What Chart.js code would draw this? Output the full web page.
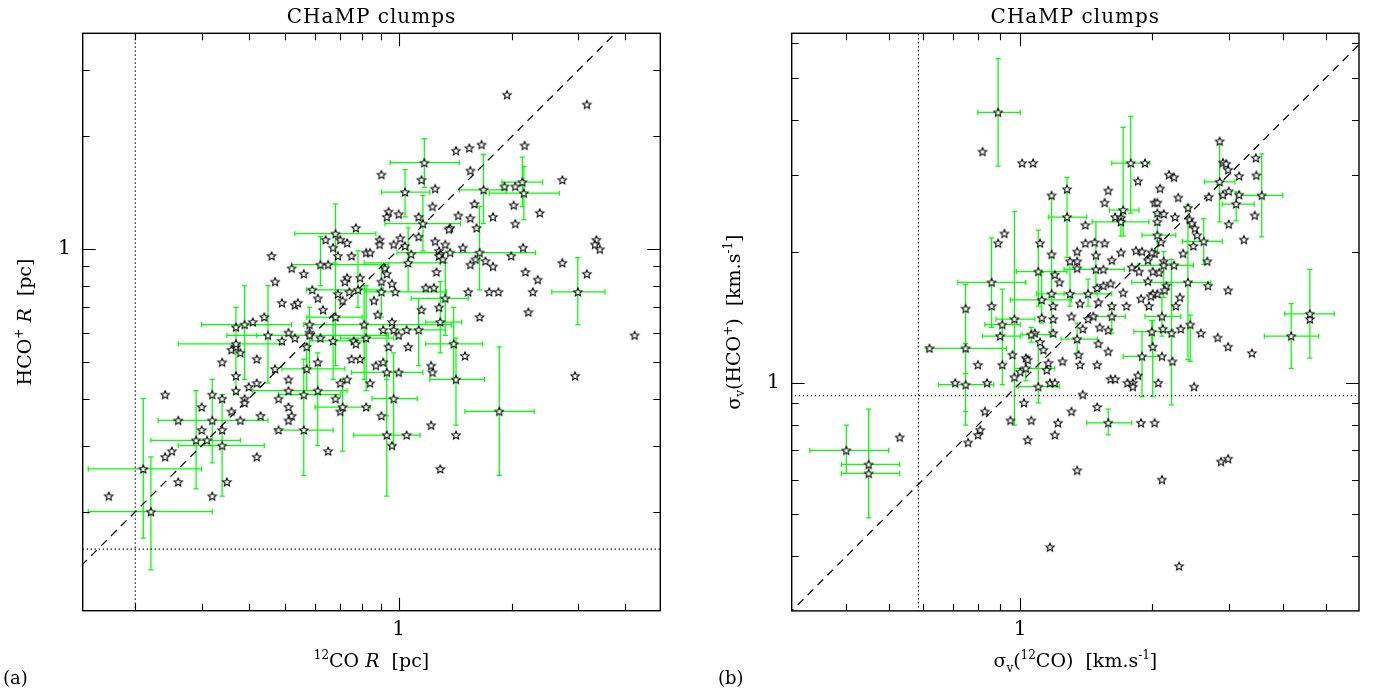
<!DOCTYPE html>
<html>
<head>
<meta charset="utf-8">
<title>CHaMP clumps</title>
<script src="https://cdn.jsdelivr.net/npm/chart.js"></script>
<style>
  html, body { margin: 0; padding: 0; background: #fff; }
  #wrap { position: relative; width: 1379px; height: 689px; overflow: hidden; }
  canvas { position: absolute; top: 0; }
</style>
</head>
<body>
<div id="wrap">
  <canvas id="panelA" width="690" height="689" style="left:0"></canvas>
  <canvas id="panelB" width="689" height="689" style="left:690px"></canvas>
</div>
<script>
// ---------------- panel (a): clump radii [pc] ----------------
const radiusRangeCO  = [0.145, 4.95];
const radiusRangeHCO = [0.109, 3.76];
const radiusTicksCO  = [0.2, 0.3, 0.4, 0.5, 0.6, 0.7, 0.8, 0.9, 1, 2, 3, 4];
const radiusTicksHCO = [0.2, 0.3, 0.4, 0.5, 0.6, 0.7, 0.8, 0.9, 1, 2, 3];
const radiusLimitCO  = 0.2;
const radiusLimitHCO = 0.159;

const coRadius = [
  1.94,3.16,2.16,1.66,1.54,1.42,1.55,0.90,2.72,1.15,
  1.91,2.04,1.25,1.59,2.02,1.23,2.37,0.94,1.00,1.44,
  1.55,1.13,0.93,1.78,2.04,1.61,1.37,1.36,0.77,1.13,
  1.01,0.64,0.70,0.89,1.25,1.33,0.67,0.73,0.97,1.04,
  1.48,2.14,3.35,3.32,3.42,0.89,1.28,1.37,0.82,0.84,
  0.69,0.75,1.08,1.29,1.99,1.28,1.31,0.46,1.60,1.70,
  1.55,0.65,0.52,1.78,0.92,2.17,0.56,1.26,0.93,3.16,
  0.47,2.34,0.73,0.79,0.72,0.90,2.72,0.96,0.59,1.24,
  1.18,0.98,0.69,0.74,1.53,1.74,1.84,2.27,0.49,0.53,
  0.54,0.61,0.71,0.86,1.15,1.28,1.64,2.21,0.44,0.63,
  0.88,0.58,0.41,0.37,0.51,0.58,0.91,0.96,1.00,0.97,
  1.05,0.49,0.53,0.62,0.76,0.77,0.57,0.94,1.06,4.23,
  0.36,0.37,0.38,0.42,0.34,0.47,0.61,0.75,0.79,0.87,
  0.91,1.22,1.23,1.00,1.50,2.94,0.37,0.51,0.73,0.84,
  0.70,0.37,0.40,0.42,0.51,0.24,0.32,0.34,0.39,0.39,
  0.48,0.68,0.30,0.51,0.70,0.82,0.36,0.43,0.52,0.90,
  0.26,0.38,0.51,1.22,0.30,0.34,0.48,1.05,1.42,0.31,
  0.96,0.65,0.25,0.24,0.42,1.29,0.26,0.35,0.17,0.32
];
const hcoRadius = [
  2.58,2.43,1.89,1.90,1.86,1.83,1.62,1.58,1.53,1.53,
  1.47,1.47,1.45,1.32,1.31,1.30,1.25,1.26,1.24,1.23,
  1.21,1.22,1.22,1.22,1.17,1.14,1.14,1.13,1.14,1.08,
  1.07,1.06,1.06,1.06,1.05,1.03,1.01,1.04,1.03,1.02,
  1.01,1.01,1.06,1.03,1.00,1.03,0.99,0.98,0.98,0.98,
  0.96,0.96,0.97,0.97,0.96,0.96,0.94,0.96,0.94,0.93,
  0.91,0.91,0.89,0.90,0.89,0.87,0.86,0.87,0.86,0.86,
  0.82,0.83,0.84,0.84,0.82,0.82,0.92,0.81,0.78,0.79,
  0.79,0.77,0.76,0.77,0.77,0.77,0.77,0.77,0.72,0.71,
  0.72,0.74,0.73,0.73,0.69,0.70,0.66,0.68,0.66,0.69,
  0.67,0.63,0.64,0.62,0.60,0.60,0.61,0.64,0.59,0.61,
  0.61,0.57,0.58,0.58,0.57,0.56,0.55,0.55,0.55,0.59,
  0.54,0.55,0.53,0.51,0.50,0.48,0.50,0.51,0.51,0.49,
  0.50,0.49,0.47,0.47,0.52,0.46,0.46,0.45,0.45,0.44,
  0.44,0.42,0.43,0.44,0.42,0.41,0.41,0.40,0.40,0.39,
  0.40,0.40,0.38,0.38,0.37,0.38,0.37,0.36,0.36,0.36,
  0.35,0.35,0.35,0.34,0.33,0.33,0.33,0.32,0.32,0.31,
  0.30,0.29,0.29,0.28,0.28,0.26,0.24,0.24,0.22,0.22
];

// clumps with measured uncertainties (value, lower and upper bound)
const barCoRadius = [1.17,1.04,2.13,2.15,1.68,1.16,0.68,1.64,1.06,0.62, 0.78,1.33,0.90,2.99,0.68,0.39,0.45,0.81,0.58,0.67, 0.82,0.37,1.29,1.13,1.40,0.57,0.93,1.42,0.97,0.61, 0.56,0.71,1.85,0.32,0.56,0.93,0.29,0.34,0.21,0.22];
const barHcoRadius = [1.70,1.42,1.51,1.41,1.44,1.17,1.10,0.98,0.92,0.91, 0.78,0.74,0.77,0.77,0.66,0.63,0.59,0.63,0.59,0.57, 0.58,0.56,0.64,0.61,0.56,0.48,0.47,0.45,0.40,0.42, 0.41,0.38,0.37,0.35,0.33,0.32,0.31,0.30,0.26,0.20];
const barCoRadiusLo = [0.95,0.90,1.88,1.74,1.45,0.92,0.53,0.99,0.81,0.52, 0.57,1.08,0.81,2.55,0.57,0.30,0.35,0.56,0.42,0.58, 0.70,0.26,1.18,0.96,1.18,0.49,0.75,1.21,0.85,0.41, 0.48,0.60,1.50,0.23,0.47,0.76,0.22,0.26,0.15,0.15];
const barCoRadiusHi = [1.45,1.21,2.41,2.67,1.93,1.46,0.87,2.31,1.29,0.94, 0.91,1.53,1.34,3.53,0.80,0.52,0.62,1.38,0.94,0.82, 0.97,0.49,1.47,1.33,1.67,0.72,1.16,1.69,1.12,0.73, 0.70,0.84,2.29,0.45,0.67,1.14,0.38,0.44,0.30,0.32];
const barHcoRadiusLo = [1.46,1.22,1.30,1.20,1.17,0.99,0.92,0.78,0.77,0.80, 0.70,0.59,0.66,0.63,0.49,0.45,0.44,0.45,0.48,0.45, 0.42,0.41,0.53,0.49,0.45,0.42,0.36,0.34,0.30,0.30, 0.25,0.29,0.25,0.27,0.25,0.22,0.23,0.22,0.17,0.14];
const barHcoRadiusHi = [1.97,1.63,1.76,1.66,1.79,1.39,1.32,1.30,1.14,1.08, 0.99,0.92,0.92,0.95,0.92,0.80,0.80,0.80,0.70,0.66, 0.80,0.70,0.82,0.74,0.70,0.56,0.60,0.58,0.53,0.53, 0.51,0.45,0.55,0.45,0.41,0.45,0.42,0.41,0.40,0.28];

// ---------------- panel (b): velocity dispersions [km/s] ----------------
const sigmaRangeCO  = [0.331, 5.96];
const sigmaRangeHCO = [0.337, 6.33];
const sigmaTicksCO  = [0.4, 0.5, 0.6, 0.7, 0.8, 0.9, 1, 2, 3, 4, 5];
const sigmaTicksHCO = [0.4, 0.5, 0.6, 0.7, 0.8, 0.9, 1, 2, 3, 4, 5, 6];
const sigmaLimitCO  = 0.585;
const sigmaLimitHCO = 0.935;

const coSigma = [
  0.82,1.01,1.07,1.93,2.86,2.91,2.96,2.99,3.46,3.47,
  3.17,2.19,2.25,1.86,2.09,1.59,1.28,1.18,2.30,2.70,
  2.91,3.00,3.17,1.56,2.03,2.06,3.44,3.00,3.25,1.65,
  1.70,2.06,2.13,2.42,2.44,2.47,2.51,2.54,2.49,2.36,
  2.68,2.69,2.26,2.06,2.10,2.03,2.00,1.84,1.90,1.96,
  2.13,2.25,2.01,1.87,1.96,2.08,2.16,2.14,2.06,2.01,
  1.89,2.32,2.27,1.97,1.70,1.80,1.72,1.75,1.62,1.59,
  1.52,1.47,1.51,1.55,1.61,1.50,1.49,1.55,1.62,1.56,
  1.48,1.41,1.41,1.35,1.35,1.30,1.35,1.37,1.31,1.39,
  1.36,1.37,1.50,1.59,1.51,1.43,1.23,1.20,1.11,1.18,
  1.19,1.19,1.19,1.12,1.08,1.11,1.13,1.16,1.15,1.25,
  1.03,1.04,1.00,0.96,0.97,1.17,1.20,0.91,0.86,0.89,
  0.92,0.80,0.71,0.84,0.62,0.83,0.76,0.80,0.81,0.95,
  1.02,1.06,1.04,1.20,1.22,1.31,1.39,1.50,1.35,1.17,
  1.61,1.65,1.76,1.81,1.81,1.86,1.89,2.03,2.07,2.11,
  2.31,2.50,2.88,2.99,3.39,2.99,2.83,2.99,2.59,2.33,
  2.23,2.11,2.12,1.99,4.60,0.53
];
const hcoSigma = [
  3.39,3.19,3.19,3.19,3.58,3.20,3.18,3.08,3.28,2.99,
  2.98,3.00,2.96,2.90,2.79,2.76,2.78,2.69,2.66,2.67,
  2.70,2.75,2.70,2.59,2.59,2.59,2.42,2.31,2.13,2.40,
  2.39,2.45,2.44,2.52,2.37,2.32,2.26,2.18,2.06,1.98,
  1.90,1.67,2.40,2.34,2.10,1.98,1.99,2.01,2.00,1.91,
  1.90,1.86,1.80,1.80,1.71,1.79,1.67,1.63,1.60,1.60,
  1.56,1.57,1.50,1.50,1.99,1.84,1.61,1.50,1.50,1.32,
  1.34,1.42,1.53,1.67,1.69,1.65,1.96,1.82,1.91,2.09,
  2.10,2.09,2.30,2.00,1.90,1.90,1.83,1.52,1.42,1.33,
  1.16,1.10,1.10,1.18,1.23,1.40,1.70,1.77,2.09,1.60,
  1.50,1.40,1.30,1.41,1.30,1.24,1.19,1.11,1.07,1.12,
  1.14,1.13,1.06,1.16,1.03,1.00,1.00,1.10,1.50,2.09,
  2.20,1.10,1.00,1.00,1.20,0.86,0.73,0.76,0.78,0.82,
  0.90,0.82,0.74,0.76,0.81,0.86,0.94,0.88,0.63,0.42,
  1.02,1.02,1.00,1.00,0.98,1.04,0.81,0.81,1.00,0.60,
  0.38,0.98,0.66,0.67,1.17,1.21,1.27,1.63,1.30,1.33,
  1.12,1.15,1.33,1.58,1.40,0.75
];

const barCoSigma = [0.89,1.79,1.72,2.86,3.57,3.12,1.28,1.18,1.70,2.06, 2.63,2.13,2.42,2.22,2.11,2.00,2.01,1.90,2.45,1.62, 1.59,1.49,1.30,1.43,1.35,1.10,1.12,1.06,1.10,1.03, 0.97,0.91,0.90,0.86,0.75,0.75,0.75,0.40,0.45,0.45, 4.17,4.60];
const barHcoSigma = [4.17,3.19,2.49,2.89,2.69,2.57,2.40,1.97,2.34,2.18, 2.11,1.86,1.70,1.30,1.42,1.31,1.21,1.15,1.36,1.42, 0.81,1.82,1.60,1.60,1.26,1.80,1.55,1.29,0.98,1.08, 1.40,1.36,1.28,1.70,1.48,1.20,0.99,0.70,0.65,0.62, 1.28,1.44];
const barCoSigmaLo = [0.80,1.62,1.60,2.64,3.18,2.90,1.16,1.18,1.46,1.90, 2.35,1.86,1.80,2.22,1.93,1.82,2.01,1.72,2.45,1.49, 1.42,1.26,1.09,1.26,1.24,0.98,0.95,1.01,0.99,0.97, 0.88,0.83,0.82,0.72,0.75,0.61,0.65,0.33,0.39,0.39, 3.62,4.03];
const barCoSigmaHi = [1.00,1.98,1.87,3.10,3.99,3.43,1.42,1.18,1.97,2.27, 2.90,2.49,2.73,2.22,2.33,2.24,2.01,2.11,2.45,1.74, 1.80,1.73,1.50,1.62,1.50,1.28,1.31,1.19,1.23,1.20, 1.08,1.00,1.00,1.03,0.75,0.93,0.87,0.50,0.53,0.53, 4.82,5.23];
const barHcoSigmaLo = [3.14,2.45,2.17,2.34,2.16,2.35,1.94,1.28,2.17,1.98, 1.87,1.57,1.13,0.89,1.28,1.21,0.93,0.93,1.12,1.30, 0.76,1.60,1.50,1.50,1.17,1.50,1.37,1.24,0.90,1.01, 0.80,0.99,1.28,1.34,0.80,0.86,0.80,0.62,0.49,0.49, 1.08,1.14];
const barHcoSigmaHi = [5.54,4.08,3.85,3.54,3.35,2.74,2.96,2.65,2.50,2.47, 2.38,2.00,2.56,1.92,1.57,1.39,1.39,1.31,1.43,1.50, 0.87,2.34,1.90,1.73,1.37,2.24,1.79,1.34,1.25,1.13, 2.47,1.64,1.28,2.15,1.68,1.23,1.05,0.80,0.87,0.70, 1.52,1.82];

// ---------------- drawing helpers ----------------
const SERIF = '"DejaVu Serif", "Liberation Serif", serif';
const BAR_GREEN = '#00ff00';
const CAP = 2.6;

// open five-pointed star used as the clump marker
function makeStar() {
  const c = document.createElement('canvas');
  c.width = 12; c.height = 12;
  const g = c.getContext('2d');
  g.beginPath();
  for (let i = 0; i < 10; i++) {
    const r = i % 2 === 0 ? 4.4 : 2.0;
    const ang = -Math.PI / 2 + i * Math.PI / 5;
    const px = 6 + r * Math.cos(ang), py = 6.4 + r * Math.sin(ang);
    if (i === 0) g.moveTo(px, py); else g.lineTo(px, py);
  }
  g.closePath();
  g.fillStyle = '#fff';
  g.fill();
  g.strokeStyle = '#000';
  g.lineWidth = 1.05;
  g.lineJoin = 'miter';
  g.stroke();
  return c;
}
const STAR = makeStar();

// text made of runs: [text, kind] with kind '' | 'i' (italic) | 'sup' | 'sub'
function runFont(kind, size) {
  const small = kind === 'sup' || kind === 'sub';
  return (kind === 'i' ? 'italic ' : '') + (small ? Math.round(size * 0.62) : size) + 'px ' + SERIF;
}
function richWidth(ctx, parts, size) {
  let w = 0;
  parts.forEach(p => { ctx.font = runFont(p[1], size); w += ctx.measureText(p[0]).width; });
  return w;
}
function drawRich(ctx, parts, cx, baseline, size) {
  let x = cx - richWidth(ctx, parts, size) / 2;
  ctx.textAlign = 'left';
  ctx.textBaseline = 'alphabetic';
  parts.forEach(p => {
    ctx.font = runFont(p[1], size);
    const dy = p[1] === 'sup' ? -size * 0.4 : (p[1] === 'sub' ? size * 0.25 : 0);
    ctx.fillText(p[0], x, baseline + dy);
    x += ctx.measureText(p[0]).width;
  });
}

function buildPanel(canvasId, p) {
  const plain = p.xs.map((v, i) => ({ x: v, y: p.ys[i] }));
  const barred = p.barX.map((v, i) => ({ x: v, y: p.barY[i] }));
  const lo = Math.min(p.xRange[0], p.yRange[0]) * 0.5;
  const hi = Math.max(p.xRange[1], p.yRange[1]) * 2;

  const decor = {
    id: 'decor',
    beforeDatasetsDraw(chart) {
      const { ctx, chartArea: a, scales: { x, y } } = chart;
      ctx.save();
      ctx.beginPath();
      ctx.rect(a.left, a.top, a.right - a.left, a.bottom - a.top);
      ctx.clip();
      ctx.strokeStyle = BAR_GREEN;
      ctx.lineWidth = 1.25;
      ctx.beginPath();
      p.barX.forEach((cv, i) => {
        const px = x.getPixelForValue(cv);
        const py = y.getPixelForValue(p.barY[i]);
        const x0 = x.getPixelForValue(p.barXLo[i]), x1 = x.getPixelForValue(p.barXHi[i]);
        const y0 = y.getPixelForValue(p.barYLo[i]), y1 = y.getPixelForValue(p.barYHi[i]);
        if (x1 - x0 > 0.5) {
          ctx.moveTo(x0, py); ctx.lineTo(x1, py);
          ctx.moveTo(x0, py - CAP); ctx.lineTo(x0, py + CAP);
          ctx.moveTo(x1, py - CAP); ctx.lineTo(x1, py + CAP);
        }
        if (y0 - y1 > 0.5) {
          ctx.moveTo(px, y0); ctx.lineTo(px, y1);
          ctx.moveTo(px - CAP, y0); ctx.lineTo(px + CAP, y0);
          ctx.moveTo(px - CAP, y1); ctx.lineTo(px + CAP, y1);
        }
      });
      ctx.stroke();
      ctx.restore();
    },
    afterDatasetsDraw(chart) {
      const { ctx, chartArea: a, scales: { x, y } } = chart;
      ctx.save();
      ctx.strokeStyle = '#000';
      ctx.lineWidth = 1.1;
      ctx.beginPath();
      x.ticks.forEach(t => {
        if (t.value <= x.min || t.value >= x.max) return;
        const px = Math.round(x.getPixelForValue(t.value)) + 0.5;
        const len = t.value === 1 ? 13 : 7;
        ctx.moveTo(px, a.bottom); ctx.lineTo(px, a.bottom - len);
        ctx.moveTo(px, a.top); ctx.lineTo(px, a.top + len);
      });
      y.ticks.forEach(t => {
        if (t.value <= y.min || t.value >= y.max) return;
        const py = Math.round(y.getPixelForValue(t.value)) + 0.5;
        const len = t.value === 1 ? 13 : 7;
        ctx.moveTo(a.left, py); ctx.lineTo(a.left + len, py);
        ctx.moveTo(a.right, py); ctx.lineTo(a.right - len, py);
      });
      ctx.stroke();
      ctx.lineWidth = 1.4;
      ctx.strokeRect(a.left, a.top, a.right - a.left, a.bottom - a.top);
      ctx.restore();
    },
    afterDraw(chart) {
      const { ctx, chartArea: a } = chart;
      const midX = (a.left + a.right) / 2;
      const midY = (a.top + a.bottom) / 2;
      ctx.save();
      ctx.fillStyle = '#000';
      // title
      ctx.font = '20px ' + SERIF;
      ctx.textAlign = 'center';
      ctx.textBaseline = 'alphabetic';
      if ('letterSpacing' in ctx) ctx.letterSpacing = '1px';
      ctx.fillText(p.title, midX, 23);
      if ('letterSpacing' in ctx) ctx.letterSpacing = '0px';
      // axis titles
      drawRich(ctx, p.xTitle, midX, 667, 19);
      ctx.save();
      ctx.translate(a.left - 52, midY);
      ctx.rotate(-Math.PI / 2);
      drawRich(ctx, p.yTitle, 0, 0, 19);
      ctx.restore();
      // panel letter
      ctx.font = '18px ' + SERIF;
      ctx.textAlign = 'left';
      ctx.fillText(p.letter, p.letterX, 684);
      ctx.restore();
    }
  };

  const tickFont = { family: SERIF, size: 20 };
  const guide = (pts, dash) => ({ data: pts, showLine: true, pointRadius: 0,
    borderColor: '#000', borderWidth: 1.25, borderDash: dash });
  return new Chart(document.getElementById(canvasId), {
    type: 'scatter',
    data: {
      datasets: [
        { data: barred, pointStyle: STAR, pointRadius: 4 },
        { data: plain, pointStyle: STAR, pointRadius: 4 },
        guide([{ x: lo, y: lo }, { x: hi, y: hi }], [8, 6]),
        guide([{ x: p.xLimit, y: lo }, { x: p.xLimit, y: hi }], [1.3, 2.7]),
        guide([{ x: lo, y: p.yLimit }, { x: hi, y: p.yLimit }], [1.3, 2.7])
      ]
    },
    options: {
      responsive: false,
      devicePixelRatio: 1,
      animation: false,
      events: [],
      layout: { padding: { top: 33.3, right: p.rightPad, bottom: 0, left: 0 } },
      plugins: { legend: { display: false }, tooltip: { enabled: false }, title: { display: false } },
      scales: {
        x: {
          type: 'logarithmic', position: 'bottom',
          min: p.xRange[0], max: p.xRange[1],
          afterBuildTicks: s => { s.ticks = p.xTicks.map(v => ({ value: v, major: v === 1 })); },
          afterFit: s => { s.height = p.bottomBand; },
          grid: { display: false, drawTicks: false },
          border: { display: false },
          ticks: { autoSkip: false, maxRotation: 0, minRotation: 0, padding: 7, color: '#000',
                   font: tickFont, callback: v => (v === 1 ? '1' : '') }
        },
        y: {
          type: 'logarithmic', position: 'left',
          min: p.yRange[0], max: p.yRange[1],
          afterBuildTicks: s => { s.ticks = p.yTicks.map(v => ({ value: v, major: v === 1 })); },
          afterFit: s => { s.width = p.leftBand; },
          grid: { display: false, drawTicks: false },
          border: { display: false },
          ticks: { autoSkip: false, padding: 12, color: '#000',
                   font: tickFont, callback: v => (v === 1 ? '1' : '') }
        }
      }
    },
    plugins: [decor]
  });
}

buildPanel('panelA', {
  xs: coRadius, ys: hcoRadius,
  barX: barCoRadius, barY: barHcoRadius,
  barXLo: barCoRadiusLo, barXHi: barCoRadiusHi,
  barYLo: barHcoRadiusLo, barYHi: barHcoRadiusHi,
  xRange: radiusRangeCO, yRange: radiusRangeHCO,
  xTicks: radiusTicksCO, yTicks: radiusTicksHCO,
  xLimit: radiusLimitCO, yLimit: radiusLimitHCO,
  leftBand: 82.7, bottomBand: 78.3, rightPad: 29.7,
  title: 'CHaMP clumps',
  xTitle: [['12', 'sup'], ['CO ', ''], ['R', 'i'], ['  [pc]', '']],
  yTitle: [['HCO', ''], ['+', 'sup'], [' ', ''], ['R', 'i'], ['  [pc]', '']],
  letter: '(a)', letterX: 3
});

buildPanel('panelB', {
  xs: coSigma, ys: hcoSigma,
  barX: barCoSigma, barY: barHcoSigma,
  barXLo: barCoSigmaLo, barXHi: barCoSigmaHi,
  barYLo: barHcoSigmaLo, barYHi: barHcoSigmaHi,
  xRange: sigmaRangeCO, yRange: sigmaRangeHCO,
  xTicks: sigmaTicksCO, yTicks: sigmaTicksHCO,
  xLimit: sigmaLimitCO, yLimit: sigmaLimitHCO,
  leftBand: 101.7, bottomBand: 78.1, rightPad: 20,
  title: 'CHaMP clumps',
  xTitle: [['σ', ''], ['v', 'sub'], ['(', ''], ['12', 'sup'], ['CO)  [km.s', ''], ['-1', 'sup'], [']', '']],
  yTitle: [['σ', ''], ['v', 'sub'], ['(HCO', ''], ['+', 'sup'], [')  [km.s', ''], ['-1', 'sup'], [']', '']],
  letter: '(b)', letterX: 28
});
</script>
</body>
</html>
